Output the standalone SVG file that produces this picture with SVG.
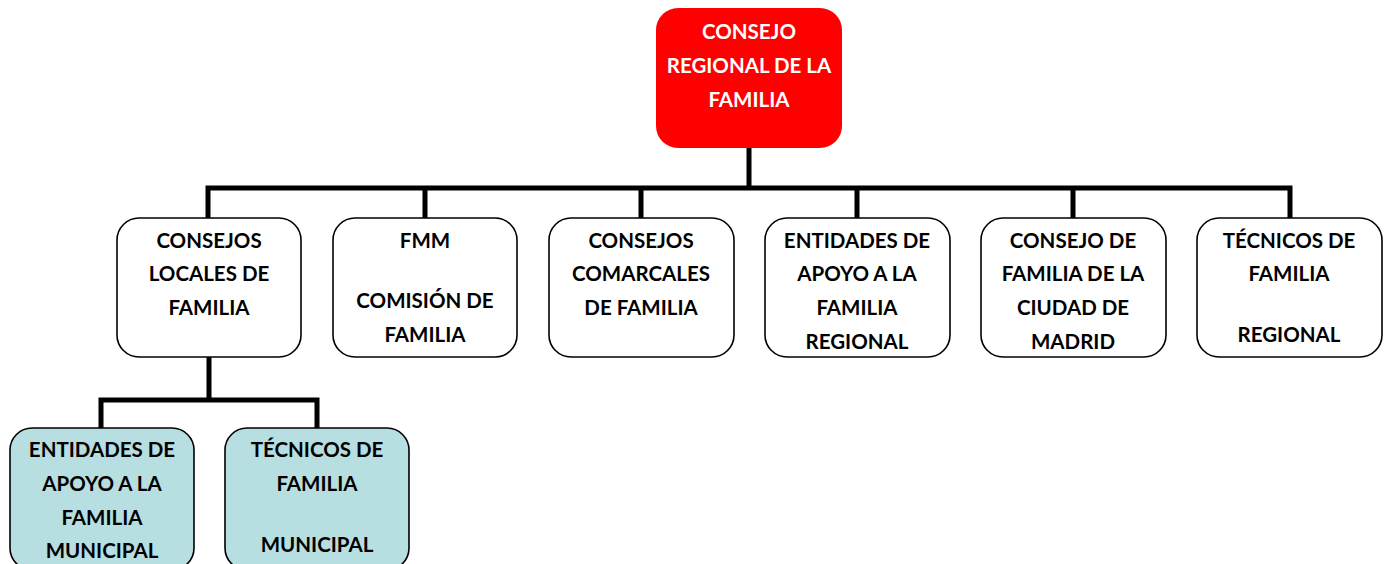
<svg xmlns="http://www.w3.org/2000/svg" width="1388" height="564" viewBox="0 0 1388 564">
<style>
.box{fill:#ffffff;stroke:#000;stroke-width:1.6}
.blue{fill:#b7dee1;stroke:#000;stroke-width:1.6}
.red{fill:#ff0000;stroke:none}
text{font-family:Lato,"Open Sans","DejaVu Sans",sans-serif;font-weight:bold;font-size:20.5px;text-anchor:middle;fill:#000}
.w{fill:#fff}
.con{fill:none;stroke:#000;stroke-width:5;stroke-linejoin:miter}
</style>
<rect width="1388" height="564" fill="#fff"/>
<g id="connectors">
<path class="con" d="M749,148 V188 M208,218 V188 H1290 V218 M425,188 V218 M641,188 V218 M857,188 V218 M1073,188 V218"/>
<path class="con" d="M209,357 V400 M101,428 V400 H317 V428"/>
</g>
<g id="n0">
<rect class="red" x="656" y="8" width="186" height="140" rx="22"/>
<text class="w" x="749" y="39">CONSEJO</text>
<text class="w" x="749" y="73">REGIONAL DE LA</text>
<text class="w" x="749" y="107">FAMILIA</text>
</g>
<g id="n1">
<rect class="box" x="117" y="218" width="184" height="139" rx="22"/>
<text x="209" y="248">CONSEJOS</text>
<text x="209" y="281">LOCALES DE</text>
<text x="209" y="315">FAMILIA</text>
</g>
<g id="n2">
<rect class="box" x="333" y="218" width="184" height="139" rx="22"/>
<text x="425" y="248">FMM</text>
<text x="425" y="308">COMISIÓN DE</text>
<text x="425" y="342">FAMILIA</text>
</g>
<g id="n3">
<rect class="box" x="549" y="218" width="185" height="139" rx="22"/>
<text x="641" y="248">CONSEJOS</text>
<text x="641" y="281">COMARCALES</text>
<text x="641" y="315">DE FAMILIA</text>
</g>
<g id="n4">
<rect class="box" x="765" y="218" width="185" height="139" rx="22"/>
<text x="857" y="248">ENTIDADES DE</text>
<text x="857" y="281">APOYO A LA</text>
<text x="857" y="315">FAMILIA</text>
<text x="857" y="349">REGIONAL</text>
</g>
<g id="n5">
<rect class="box" x="981" y="218" width="185" height="139" rx="22"/>
<text x="1073" y="248">CONSEJO DE</text>
<text x="1073" y="281">FAMILIA DE LA</text>
<text x="1073" y="315">CIUDAD DE</text>
<text x="1073" y="349">MADRID</text>
</g>
<g id="n6">
<rect class="box" x="1197" y="218" width="185" height="139" rx="22"/>
<text x="1289" y="248">TÉCNICOS DE</text>
<text x="1289" y="281">FAMILIA</text>
<text x="1289" y="342">REGIONAL</text>
</g>
<g id="n7">
<rect class="blue" x="10" y="428" width="184" height="142" rx="22"/>
<text x="102" y="457">ENTIDADES DE</text>
<text x="102" y="491">APOYO A LA</text>
<text x="102" y="525">FAMILIA</text>
<text x="102" y="558">MUNICIPAL</text>
</g>
<g id="n8">
<rect class="blue" x="225" y="428" width="184" height="142" rx="22"/>
<text x="317" y="457">TÉCNICOS DE</text>
<text x="317" y="491">FAMILIA</text>
<text x="317" y="552">MUNICIPAL</text>
</g>
</svg>
